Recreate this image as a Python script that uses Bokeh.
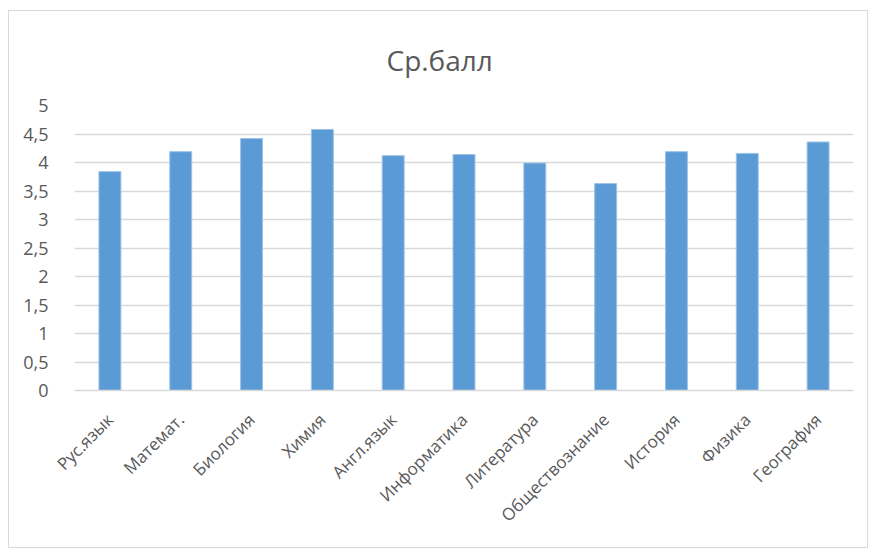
import math
from bokeh.plotting import figure
from bokeh.models import Range1d, FixedTicker, CustomJSTickFormatter
from bokeh.embed import file_html
from bokeh.resources import INLINE

subjects = ["Рус.язык", "Математ.", "Биология", "Химия", "Англ.язык", "Информатика",
            "Литература", "Обществознание", "История", "Физика", "География"]
scores = [3.84, 4.19, 4.42, 4.58, 4.12, 4.14, 3.99, 3.63, 4.19, 4.16, 4.36]
y_ticks = [0, 0.5, 1, 1.5, 2, 2.5, 3, 3.5, 4, 4.5, 5]

FONT = "Open Sans"
GRAY = "#595959"

p = figure(x_range=subjects, y_range=Range1d(0, 5), width=860, height=538,
           output_backend="svg", toolbar_location=None, title="Ср.балл",
           min_border_left=65, min_border_right=16, min_border_top=94, min_border_bottom=159)
p.styles = {"border": "1px solid #d9d9d9", "margin-left": "8px", "margin-top": "10px"}

p.vbar(x=subjects, top=scores, width=0.31, fill_color="#5B9BD5", line_color="#9cc3e6", line_width=1)

p.title.align = "left"
p.title.offset = 312
p.title.text_font = FONT
p.title.text_font_size = "28px"
p.title.text_font_style = "normal"
p.title.text_color = GRAY
p.title.standoff = 53

p.outline_line_color = None
p.xgrid.grid_line_color = None
p.ygrid.grid_line_color = "#d9d9d9"
p.ygrid.grid_line_width = 1.5

p.yaxis.ticker = FixedTicker(ticks=y_ticks)
p.yaxis.formatter = CustomJSTickFormatter(code="return tick.toString().replace('.', ',');")
p.yaxis.axis_line_color = None
p.yaxis.major_tick_line_color = None
p.yaxis.minor_tick_line_color = None
p.yaxis.major_label_text_font = FONT
p.yaxis.major_label_text_font_size = "18px"
p.yaxis.major_label_text_color = GRAY
p.yaxis.major_label_standoff = 20

p.xaxis.axis_line_color = "#d9d9d9"
p.xaxis.axis_line_width = 1.5
p.xaxis.major_tick_line_color = None
p.xaxis.minor_tick_line_color = None
p.xaxis.major_label_orientation = math.pi / 4
p.xaxis.major_label_text_font = FONT
p.xaxis.major_label_text_font_size = "17px"
p.xaxis.major_label_text_color = GRAY
p.xaxis.major_label_standoff = 20

open("out.html", "w").write(file_html(p, INLINE))
